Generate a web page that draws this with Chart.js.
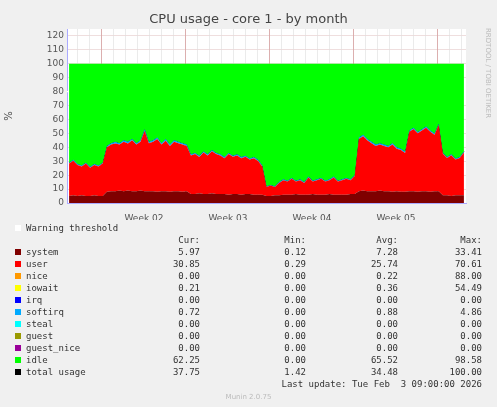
<!DOCTYPE html>
<html><head><meta charset="utf-8">
<script src="https://cdn.jsdelivr.net/npm/chart.js@4/dist/chart.umd.min.js"></script>
<style>
body{margin:0;background:#f0f0f0;width:497px;height:407px;overflow:hidden;position:relative;font-family:"DejaVu Sans",sans-serif;color:#333}
#c{position:absolute;left:0;top:0}
.t{position:absolute;white-space:pre;font-size:9px;line-height:12px}
.m{font-family:"DejaVu Sans Mono",monospace;font-size:9px}
.sw{position:absolute;width:6px;height:6px}
</style></head><body>
<canvas id="c" width="497" height="220"></canvas>
<div class="t" style="left:0;width:497px;top:11px;text-align:center;font-size:13px;line-height:16px;color:#444">CPU usage - core 1 - by month</div>
<div class="t" style="left:4px;top:110px;font-size:10px;transform:rotate(-90deg);color:#444">%</div>
<div class="t" style="left:446px;top:60px;font-size:7px;color:#bbb;transform:rotate(90deg);transform-origin:left top;left:494px;top:28px">RRDTOOL / TOBI OETIKER</div>
<div id="leg"></div>
<script>
const totalUsage=[29,31,28,27,29,26,28,27,29,
41,43,44,43,45,44,46,43,45,53,44,45,47,43,46,42,45,44,43,42,
35,36,34,37,35,38,36,35,33,36,34,35,33,34,32,33,31,27,
12,13,
12,15,17,16,18,16,17,15,19,16,17,18,16,17,19,16,17,18,17,20,
47,49,46,44,42,43,42,41,43,40,39,37,
52,54,51,53,55,52,50,57,
36,33,35,32,33,37];
const systemVals=[5,5.5,5,5.5,5,5,5.5,5,5,
8,8.5,8.5,9,8.5,9,8.5,8.5,9,8.5,8.5,8.5,8,8.5,8.5,8,8.5,8.5,8,8.5,
6.5,6.5,7,6.5,6.5,7,6.5,6.5,6.5,6,6.5,6.5,6,6.5,6.5,6,6,6,
5,5,
5.5,5.5,6,6,6,6.5,6,6,6,6.5,6,6,6,6.5,6,6,6,6,6.5,6.5,
8.5,9,8.5,8.5,8.5,9,8.5,8.5,8,8.5,8,8,
8.5,8.5,8,8.5,8.5,8,8.5,8.5,
5.5,5.5,5,5.5,5.5,5.5];
const softirqVals=[0.7,0.7,0.7,0.7,0.7,0.7,0.7,0.7,0.7,
1,1,1.2,1,1,1.2,1,1,1,1.2,1,1,1,1,1.2,1,1,1,1,1,
0.8,0.8,0.9,0.8,0.8,0.8,0.8,0.8,0.8,0.8,0.8,0.8,0.8,0.8,0.8,0.8,0.8,0.8,
0.5,0.5,
0.5,0.6,0.6,0.6,0.6,0.6,0.6,0.6,0.6,0.6,0.6,0.6,0.6,0.6,0.6,0.6,0.6,0.6,0.6,0.6,
1,1,1,1,1,1,1,1,1,1,1,1,
0.9,0.9,0.9,0.9,0.9,0.9,0.9,0.9,
0.7,0.7,0.7,0.7,0.7,0.7];
const weekBounds=[8.33,28.33,48.33,68.33,88.33];
const weekLabels=["Week 02","Week 03","Week 04","Week 05"];
const warningLevel=80;
const legendRows=[
["system","#7f0000","5.97","0.12","7.28","33.41"],
["user","#ff0000","30.85","0.29","25.74","70.61"],
["nice","#ff9900","0.00","0.00","0.22","88.00"],
["iowait","#ffff00","0.21","0.00","0.36","54.49"],
["irq","#0000ff","0.00","0.00","0.00","0.00"],
["softirq","#00aaff","0.72","0.00","0.88","4.86"],
["steal","#00ffff","0.00","0.00","0.00","0.00"],
["guest","#999900","0.00","0.00","0.00","0.00"],
["guest_nice","#990099","0.00","0.00","0.00","0.00"],
["idle","#00ff00","62.25","0.00","65.52","98.58"],
["total usage","#000000","37.75","1.42","34.48","100.00"]];

const N=totalUsage.length;
const pts=a=>a.map((v,i)=>({x:i+0.5,y:v}));
const userVals=totalUsage.map((t,i)=>t-systemVals[i]-softirqVals[i]);
const idleVals=totalUsage.map(t=>100-t);
const area=(label,data,color,i)=>({label,data:pts(data),backgroundColor:color,borderWidth:0,pointRadius:0,fill:i===0?'origin':'-1',stack:'s',tension:0});
const bg={id:'bg',beforeDraw(c){const a=c.chartArea,x=c.ctx;x.save();x.fillStyle='#fff';x.fillRect(a.left,a.top,a.right-a.left,a.bottom-a.top);x.restore();}};
new Chart(document.getElementById('c'),{type:'line',plugins:[bg],
data:{datasets:[
area('system',systemVals,'#7f0000',0),
area('user',userVals,'#ff0000',1),
area('softirq',softirqVals,'#00aaff',2),
area('idle',idleVals,'#00ff00',3),
{label:'total',data:pts(totalUsage),borderColor:'#000',borderWidth:1,pointRadius:0,fill:false,stack:'t'},
{label:'warn',data:[{x:0,y:warningLevel},{x:N,y:warningLevel}],borderColor:'#fff',borderWidth:1.2,pointRadius:0,fill:false,stack:'w'}
]},
options:{animation:false,responsive:false,events:[],
layout:{padding:{top:29,right:31,left:0,bottom:0}},
plugins:{legend:{display:false},tooltip:{enabled:false}},
scales:{
y:{stacked:true,min:0,max:125,afterFit(s){s.width=67;},border:{color:'#aaaaff'},
 ticks:{stepSize:5,color:'#555',font:{size:9,family:'DejaVu Sans'},callback:v=>v%10===0&&v<=120?v:'',padding:3},
 grid:{color:'#e4c8c8',lineWidth:0.6,borderDash:[1,2],drawTicks:false}},
x:{type:'linear',min:0,max:N,afterFit(s){s.height=17;},border:{color:'#aaaaff'},
 afterBuildTicks(s){s.ticks=weekLabels.map((l,i)=>({value:(weekBounds[i]+weekBounds[i+1])/2,label:l}));},
 ticks:{color:'#555',font:{size:9,family:'DejaVu Sans'},callback:(v,i)=>weekLabels[i],maxRotation:0,autoSkip:false,padding:2},
 grid:{display:false}},
xd:{type:'linear',min:0,max:N,display:true,position:'bottom',afterFit(s){s.height=0;},
 afterBuildTicks(s){const t=[];for(let v=weekBounds[0]-2.857*2;v<N;v+=2.857)t.push({value:v});s.ticks=t;},
 ticks:{display:false},grid:{color:'#dddddd',lineWidth:0.6,borderDash:[1,2],drawTicks:false},border:{display:false}},
xw:{type:'linear',min:0,max:N,display:true,position:'bottom',afterFit(s){s.height=0;},
 afterBuildTicks(s){s.ticks=weekBounds.map(v=>({value:v}));},
 ticks:{display:false},grid:{color:'#d8a0a0',lineWidth:0.8,borderDash:[1,2],drawTicks:false},border:{display:false}}
}}});
let h='<div class="sw" style="left:15px;top:225px;background:#fff"></div><div class="t m" style="left:26px;top:222px">Warning threshold</div>';
const cols=[200,306,398,482];
['Cur:','Min:','Avg:','Max:'].forEach((s,j)=>{h+=`<div class="t m" style="right:${497-cols[j]}px;top:234px">${s}</div>`;});
legendRows.forEach((r,i)=>{const y=246+i*12;
h+=`<div class="sw" style="left:15px;top:${y+3}px;background:${r[1]}"></div><div class="t m" style="left:26px;top:${y}px">${r[0]}</div>`;
for(let j=0;j<4;j++)h+=`<div class="t m" style="right:${497-cols[j]}px;top:${y}px">${r[j+2]}</div>`;});
h+='<div class="t m" style="right:15px;top:378px">Last update: Tue Feb  3 09:00:00 2026</div>';
h+='<div class="t" style="left:0;width:497px;text-align:center;top:391px;font-size:7px;color:#bbb">Munin 2.0.75</div>';
document.getElementById('leg').innerHTML=h;
</script></body></html>
